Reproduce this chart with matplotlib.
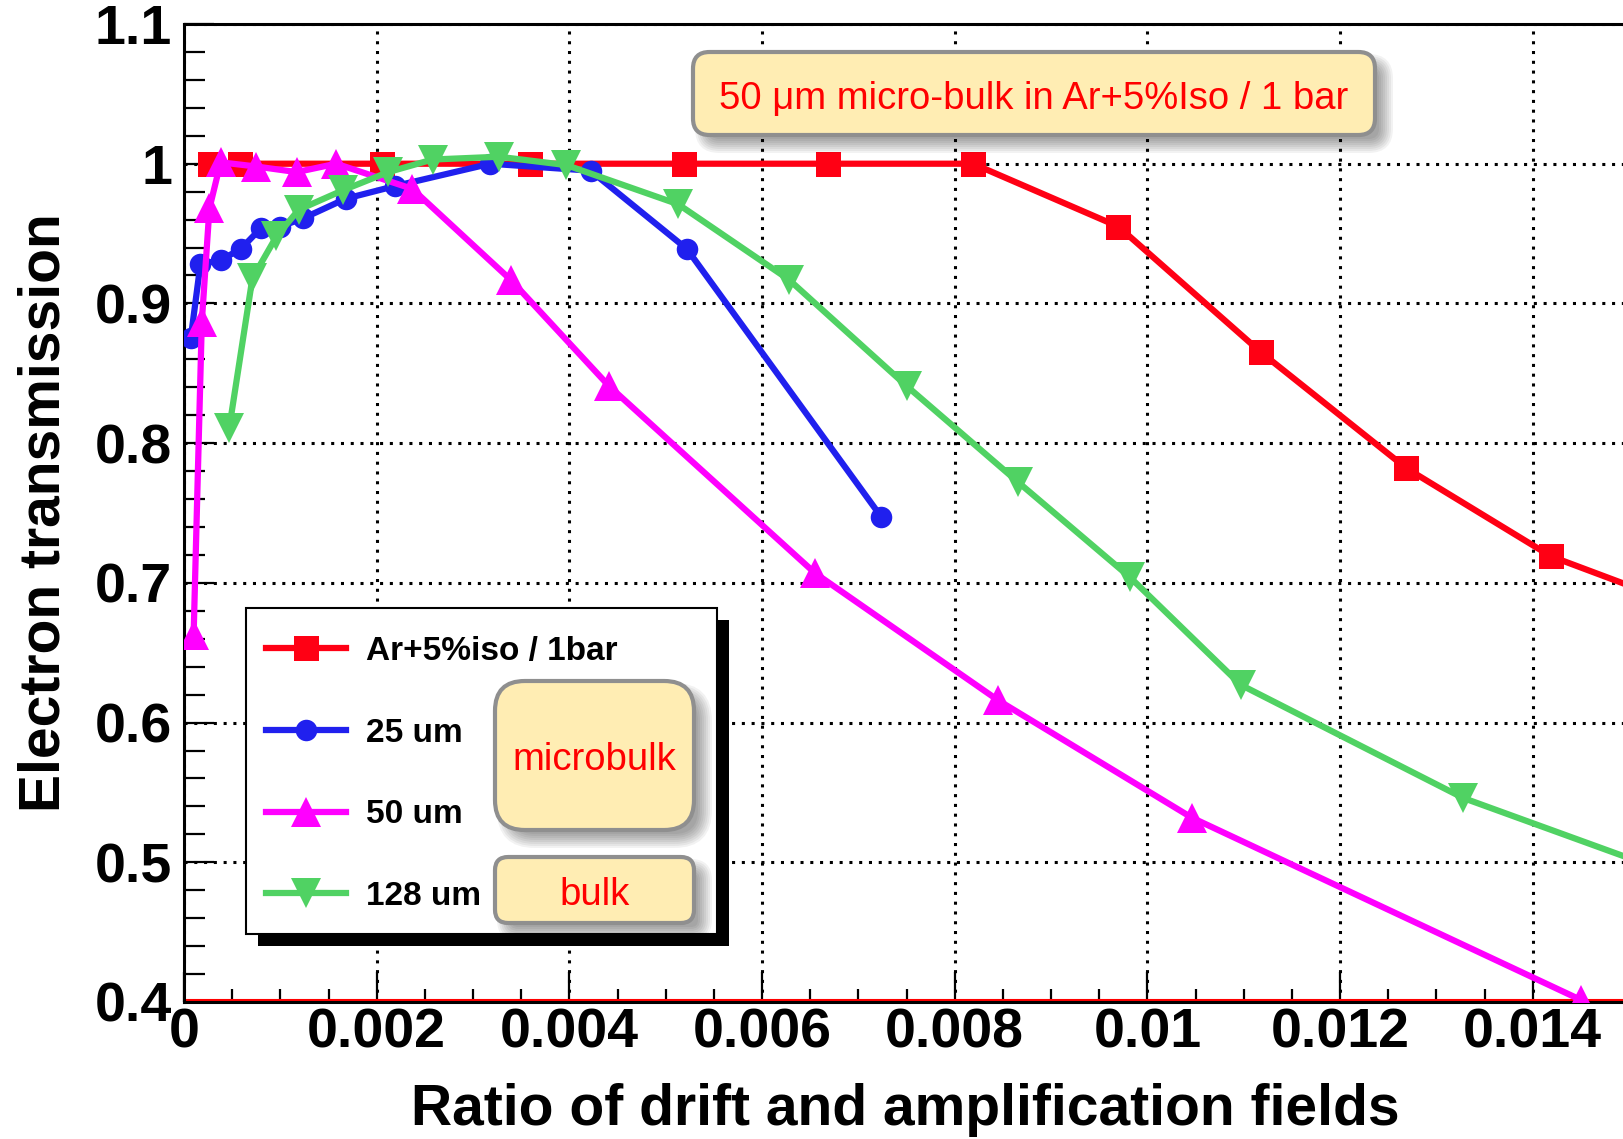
import matplotlib.pyplot as plt
from matplotlib.patches import FancyBboxPatch, Rectangle
from matplotlib.transforms import IdentityTransform, offset_copy
from matplotlib.ticker import MultipleLocator

plt.rcParams['font.family'] = ['Liberation Sans', 'DejaVu Sans']

# data
x_iso = [0.00027, 0.00058, 0.00206, 0.00359, 0.00519, 0.00668, 0.00819,
         0.0097, 0.01118, 0.01269, 0.01419, 0.0157]
y_iso = [1.0, 1.0, 1.0, 1.0, 1.0, 1.0, 1.0, 0.955, 0.865, 0.782, 0.719, 0.68]

x_25 = [0.00007, 0.00017, 0.00038, 0.00059, 0.0008, 0.001, 0.00124, 0.00168,
        0.00219, 0.00318, 0.00422, 0.00522, 0.00724]
y_25 = [0.875, 0.928, 0.931, 0.939, 0.954, 0.955, 0.961, 0.975, 0.984, 1.0,
        0.995, 0.939, 0.747]

x_50 = [0.0001, 0.000185, 0.000264, 0.00038, 0.00075, 0.00117, 0.00158,
        0.00237, 0.00339, 0.00441, 0.00655, 0.00845, 0.01046, 0.0145]
y_50 = [0.663, 0.887, 0.968, 1.001, 0.998, 0.994, 1.0, 0.982, 0.917, 0.841,
        0.707, 0.616, 0.532, 0.4015]

x_128 = [0.00047, 0.00071, 0.00096, 0.00119, 0.00165, 0.00212, 0.00258,
         0.00327, 0.00397, 0.00513, 0.00628, 0.0075, 0.00866, 0.00982,
         0.01097, 0.01328, 0.0156]
y_128 = [0.811, 0.918, 0.948, 0.967, 0.981, 0.994, 1.003, 1.005, 0.999, 0.971,
         0.917, 0.841, 0.772, 0.704, 0.627, 0.546, 0.488]

labels = ['Ar+5%iso / 1bar', '25 um', '50 um', '128 um']
x_ticks = [0, 0.002, 0.004, 0.006, 0.008, 0.01, 0.012, 0.014]
x_tick_labels = ['0', '0.002', '0.004', '0.006', '0.008', '0.01', '0.012', '0.014']
y_ticks = [0.4, 0.5, 0.6, 0.7, 0.8, 0.9, 1.0, 1.1]
y_tick_labels = ['0.4', '0.5', '0.6', '0.7', '0.8', '0.9', '1', '1.1']

W, H = 1623, 1139
fig = plt.figure(figsize=(W / 100, H / 100), dpi=100)
ax = fig.add_axes([184 / W, 137 / H, 1445 / W, 978 / H])
PIX = IdentityTransform()

red, blue, mag, green = '#FF0014', '#2020EE', '#FF00FF', '#50D263'
l1, = ax.plot(x_iso, y_iso, '-s', color=red, lw=4.5, ms=18, mew=0, zorder=3)
l2, = ax.plot(x_25, y_25, '-o', color=blue, lw=4.5, ms=15.5, mew=0, zorder=3)
l3, = ax.plot(x_50, y_50, '-^', color=mag, lw=4.5, ms=21, mew=0, zorder=3)
l4, = ax.plot(x_128, y_128, '-v', color=green, lw=4.5, ms=21, mew=0, zorder=3)

ax.set_xlim(0, 0.015)
ax.set_ylim(0.4, 1.1)
ax.set_xticks(x_ticks)
ax.set_xticklabels(x_tick_labels)
ax.set_yticks(y_ticks)
ax.set_yticklabels(y_tick_labels)
ax.xaxis.set_minor_locator(MultipleLocator(0.0005))
ax.yaxis.set_minor_locator(MultipleLocator(0.02))
ax.tick_params(which='both', direction='in', top=False, right=False, width=1.6)
ax.tick_params(axis='x', which='major', length=21.6, pad=4, labelsize=40)
ax.tick_params(axis='x', which='minor', length=9.4)
ax.tick_params(axis='y', which='major', length=21.6, pad=8.6, labelsize=40)
ax.tick_params(axis='y', which='minor', length=15)
for t in ax.get_xticklabels() + ax.get_yticklabels():
    t.set_fontweight('bold')
ax.grid(True, which='major', color='k', linestyle=(0, (1, 2.2)), linewidth=2.2)
ax.set_axisbelow(True)
for s in ['left', 'bottom', 'top']:
    ax.spines[s].set_linewidth(2.2)
ax.spines['right'].set_visible(False)

# red line sitting on the x axis
base = ax.axhline(0.4, color='red', lw=1.5, zorder=2.5)
base.set_transform(offset_copy(base.get_transform(), fig=fig, x=0, y=1.5, units='dots'))

fig.text(905 / W, 1 - 1125 / H, 'Ratio of drift and amplification fields',
         ha='center', va='baseline', fontsize=41, fontweight='bold')
fig.text(72 / W, 1 - 513 / H, 'Electron transmission', rotation=90,
         ha='right', va='center', fontsize=41, fontweight='bold')

# legend with black shadow
lx0, ly0, lx1, ly1 = 246, 608, 717, 934
ax.add_artist(Rectangle((lx0 + 12, H - ly1 - 12), lx1 - lx0, ly1 - ly0,
                        fc='k', ec='none', transform=PIX, zorder=4))
ax.add_artist(Rectangle((lx0, H - ly1), lx1 - lx0, ly1 - ly0,
                        fc='white', ec='k', lw=1.5, transform=PIX, zorder=4.1))
ax.legend([l1, l2, l3, l4], labels, loc='upper left',
          bbox_to_anchor=(266, H - 636), bbox_transform=PIX, frameon=False,
          borderpad=0, borderaxespad=0, handlelength=2.4, handletextpad=0.6,
          labelspacing=1.52, prop={'family': 'Liberation Sans', 'weight': 'bold', 'size': 24})


def note_box(x0, y0, x1, y1, text):
    w, h = x1 - x0, y1 - y0
    r = 0.2 * min(w, h)
    for i in range(8):
        g = 8 - 2 * i
        fig.add_artist(FancyBboxPatch((x0 + 10 - g, H - y1 - 10 - g), w + 2 * g, h + 2 * g,
                                      boxstyle=f'round,pad=0,rounding_size={r + g}',
                                      fc='k', ec='none', alpha=0.05, transform=PIX))
    fig.add_artist(FancyBboxPatch((x0, H - y1), w, h,
                                  boxstyle=f'round,pad=0,rounding_size={r}',
                                  fc='#FFEDB3', ec='#8F8F8F', lw=3, transform=PIX))
    fig.text((x0 + x1) / 2 / W, 1 - ((y0 + y1) / 2 + 5) / H, text, ha='center',
             va='center', color='red', fontsize=27.5)


note_box(693, 52, 1375, 135, '50 \u03bcm micro-bulk in Ar+5%Iso / 1 bar')
note_box(495, 681, 694, 830, 'microbulk')
note_box(495, 857, 694, 923, 'bulk')

fig.savefig('out.png', dpi=100)
